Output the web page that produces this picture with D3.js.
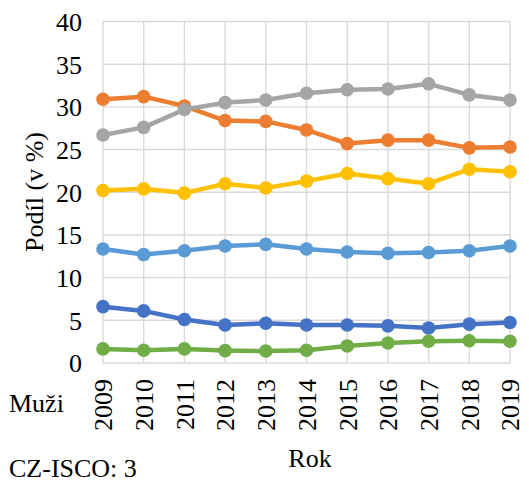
<!DOCTYPE html>
<html>
<head>
<meta charset="utf-8">
<script src="https://cdn.jsdelivr.net/npm/d3@7"></script>
<style>
  html, body { margin: 0; padding: 0; background: #fff; }
  svg { display: block; }
</style>
</head>
<body>
<svg id="chart" width="529" height="483" font-family="Liberation Serif" font-size="26"></svg>
<script>
// Years on the x axis
const years = [2009, 2010, 2011, 2012, 2013, 2014, 2015, 2016, 2017, 2018, 2019];

// Share (%) per series, one array per line
const series1 = [6.6, 6.1, 5.1, 4.45, 4.65, 4.45, 4.45, 4.35, 4.1, 4.55, 4.75];
const series2 = [30.9, 31.2, 30.1, 28.4, 28.3, 27.3, 25.7, 26.1, 26.1, 25.2, 25.3];
const series3 = [26.7, 27.6, 29.7, 30.5, 30.8, 31.6, 32.0, 32.1, 32.7, 31.4, 30.8];
const series4 = [20.2, 20.4, 19.9, 21.0, 20.5, 21.3, 22.2, 21.6, 21.0, 22.7, 22.4];
const series5 = [13.35, 12.7, 13.15, 13.7, 13.9, 13.35, 13.0, 12.85, 12.95, 13.15, 13.7];
const series6 = [1.65, 1.5, 1.65, 1.45, 1.4, 1.5, 2.0, 2.35, 2.55, 2.6, 2.55];

const seriesList = [series1, series2, series3, series4, series5, series6];
const colors = ["#4472C4", "#ED7D31", "#A5A5A5", "#FFC000", "#5B9BD5", "#70AD47"];

const yTicks = [0, 5, 10, 15, 20, 25, 30, 35, 40];

const svg = d3.select("#chart");
const plotLeft = 103, plotRight = 510, plotTop = 21.5, plotBottom = 363;

const x = d3.scalePoint().domain(years).range([plotLeft, plotRight]).padding(0);
const y = d3.scaleLinear().domain([0, 40]).range([plotBottom, plotTop]);

// Grid: horizontal lines at each tick, vertical lines at each year
const grid = svg.append("g").attr("stroke", "#D9D9D9").attr("stroke-width", 1.4);
grid.selectAll("line.h").data(yTicks).join("line").attr("class", "h")
  .attr("x1", plotLeft).attr("x2", plotRight)
  .attr("y1", d => y(d)).attr("y2", d => y(d));
grid.selectAll("line.v").data(years).join("line").attr("class", "v")
  .attr("x1", d => x(d)).attr("x2", d => x(d))
  .attr("y1", plotTop).attr("y2", plotBottom);

// Y axis labels (axis group keeps the svg's serif font)
const yAxis = svg.append("g").attr("transform", `translate(${plotLeft - 21},0)`)
  .call(d3.axisLeft(y).tickValues(yTicks).tickSize(0).tickPadding(0))
  .attr("font-family", "Liberation Serif").attr("font-size", 26);
yAxis.select(".domain").remove();
yAxis.selectAll("text").attr("fill", "#000").attr("dy", "0.34em");

// X axis labels, rotated
const xAxis = svg.append("g").attr("transform", `translate(0,${plotBottom})`)
  .call(d3.axisBottom(x).tickSize(0).tickPadding(0))
  .attr("font-family", "Liberation Serif").attr("font-size", 26);
xAxis.select(".domain").remove();
xAxis.selectAll("text")
  .attr("fill", "#000")
  .attr("text-anchor", "end")
  .attr("transform", "translate(0,16) rotate(-90)")
  .attr("x", 0).attr("y", 0).attr("dy", "0.34em");

// Lines and markers
const line = d3.line().x((d, i) => x(years[i])).y(d => y(d));
seriesList.forEach((vals, k) => {
  const g = svg.append("g");
  g.append("path").datum(vals)
    .attr("d", line).attr("fill", "none")
    .attr("stroke", colors[k]).attr("stroke-width", 4.5)
    .attr("stroke-linejoin", "round");
  g.selectAll("circle").data(vals).join("circle")
    .attr("cx", (d, i) => x(years[i])).attr("cy", d => y(d))
    .attr("r", 6.8).attr("fill", colors[k]);
});

// Axis titles and notes
svg.append("text").attr("transform", "translate(43,192) rotate(-90)")
  .attr("text-anchor", "middle").text("Podíl (v %)");
svg.append("text").attr("x", 310).attr("y", 467)
  .attr("text-anchor", "middle").text("Rok");
svg.append("text").attr("x", 9).attr("y", 412).text("Muži");
svg.append("text").attr("x", 9).attr("y", 477).text("CZ-ISCO: 3");
</script>
</body>
</html>
